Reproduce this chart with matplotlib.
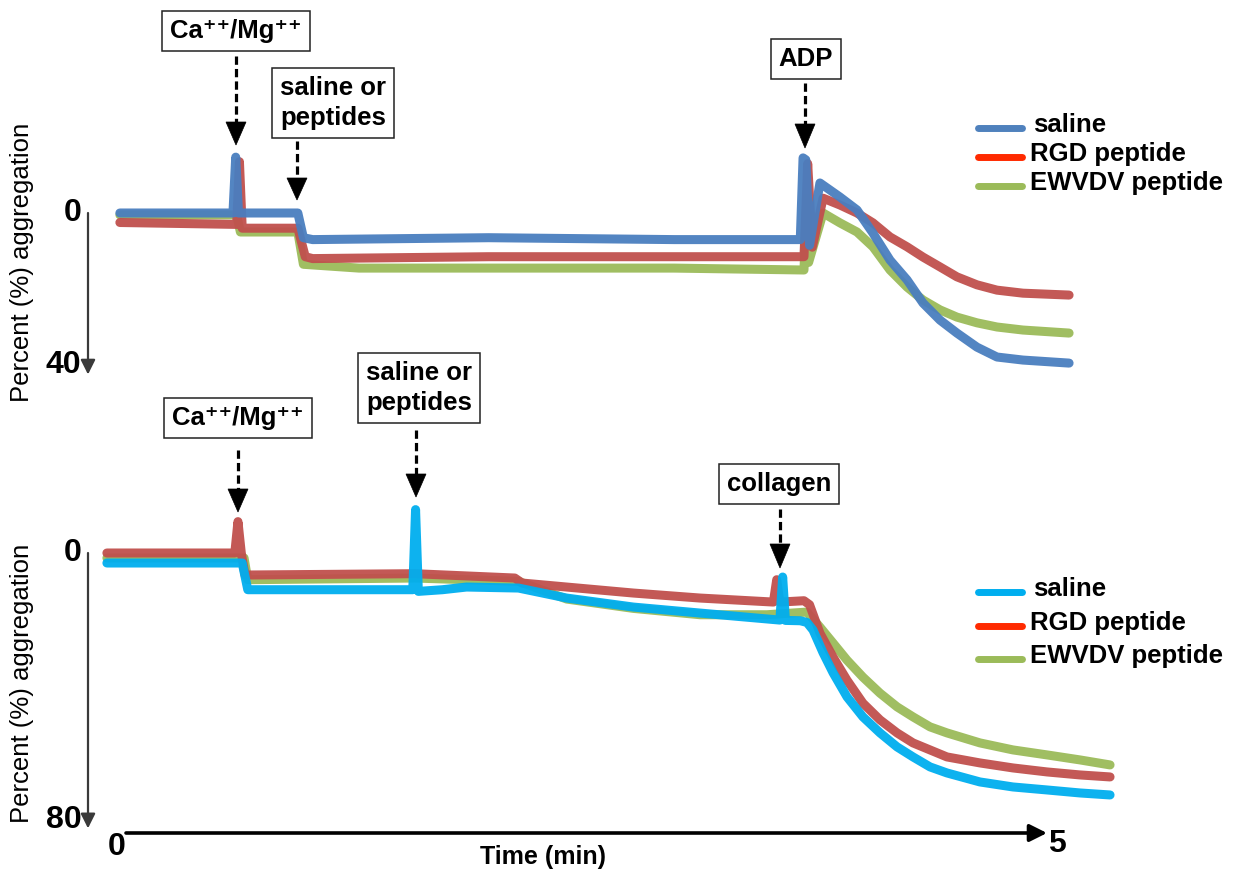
import matplotlib
matplotlib.use("Agg")
import matplotlib.pyplot as plt
from matplotlib.patches import Polygon

plt.rcParams['font.family'] = ['Liberation Sans', 'DejaVu Sans']

# ---------------- data (time in min, percent aggregation) ----------------
series_names = ["saline", "RGD peptide", "EWVDV peptide"]

# Top panel (ADP)
top_saline_t = [0.01, 0.62, 0.635, 0.65, 0.97, 1.00, 1.05, 2.0, 3.0, 3.68, 3.695, 3.71, 3.73,
                3.786, 3.894, 3.986, 4.072, 4.164, 4.256, 4.342, 4.434, 4.525, 4.633, 4.741, 4.881, 5.13]
top_saline_v = [0.0, 0.0, -14.7, 0.0, 0.0, 6.5, 7.0, 6.5, 7.0, 7.0, -14.5, -14.0, 8.5,
                -7.9, -4.2, -0.8, 5.3, 12.4, 17.6, 23.7, 28.2, 31.6, 35.3, 37.9, 38.7, 39.5]
top_rgd_t = [0.01, 0.64, 0.655, 0.67, 0.97, 1.01, 1.05, 2.0, 3.0, 3.70, 3.72, 3.745,
             3.803, 3.894, 3.986, 4.072, 4.164, 4.256, 4.342, 4.434, 4.525, 4.633, 4.741, 4.881, 5.13]
top_rgd_v = [2.5, 3.0, -13.5, 4.0, 4.0, 11.5, 12.0, 11.5, 11.5, 11.5, -13.0, 9.0,
             -3.9, -2.1, 0.0, 2.6, 6.3, 8.9, 11.6, 14.2, 16.8, 18.9, 20.3, 21.1, 21.6]
top_ewvdv_t = [0.01, 0.64, 0.66, 0.97, 1.00, 1.3, 2.0, 3.0, 3.70, 3.715, 3.725,
               3.803, 3.894, 3.986, 4.072, 4.164, 4.256, 4.342, 4.434, 4.525, 4.633, 4.741, 4.881, 5.13]
top_ewvdv_v = [0.5, 0.5, 5.0, 5.0, 13.5, 14.5, 14.5, 14.5, 15.0, -4.0, 13.0,
               0.0, 2.6, 5.0, 8.9, 15.0, 19.5, 22.9, 25.5, 27.4, 28.9, 30.0, 30.8, 31.6]

# Bottom panel (collagen)
bot_saline_t = [-0.06, 0.67, 0.70, 1.59, 1.605, 1.62, 1.75, 1.88, 2.16, 2.42, 2.78, 3.14, 3.57, 3.585, 3.60,
                3.68, 3.716, 3.749, 3.803, 3.857, 3.932, 4.018, 4.110, 4.202, 4.288, 4.380, 4.471,
                4.649, 4.827, 5.011, 5.189, 5.351]
bot_saline_v = [3.0, 3.0, 11.0, 11.0, -13.0, 11.5, 11.0, 10.2, 10.5, 13.5, 16.2, 18.0, 20.1, 7.2, 20.2,
                20.3, 20.8, 23.1, 29.9, 35.9, 43.1, 49.1, 53.9, 58.1, 61.1, 64.1, 65.9,
                68.6, 70.1, 71.0, 71.9, 72.5]
bot_rgd_t = [-0.06, 0.63, 0.647, 0.665, 0.685, 1.6, 2.14, 2.18, 2.42, 2.78, 3.14, 3.535, 3.553, 3.57,
             3.70, 3.73, 3.786, 3.857, 3.932, 4.018, 4.110, 4.202, 4.288, 4.471, 4.649, 4.827,
             5.011, 5.189, 5.351]
bot_rgd_v = [0.0, 0.0, -9.4, 0.0, 6.6, 6.2, 7.5, 9.0, 10.2, 12.0, 13.5, 14.7, 8.0, 14.7,
             14.3, 15.5, 24.0, 31.2, 38.1, 45.0, 50.0, 53.9, 56.9, 61.1, 62.9, 64.4,
             65.6, 66.5, 67.1]
bot_ewvdv_t = [-0.06, 0.68, 0.70, 1.6, 2.16, 2.42, 2.78, 3.14, 3.50, 3.716, 3.786, 3.857, 3.932,
               4.018, 4.110, 4.202, 4.288, 4.380, 4.471, 4.649, 4.827, 5.011, 5.189, 5.351]
bot_ewvdv_v = [1.5, 1.5, 8.0, 7.5, 8.5, 13.8, 16.6, 18.5, 18.5, 17.7, 22.2, 27.0, 32.1,
               37.2, 42.0, 46.1, 49.1, 52.1, 53.9, 56.9, 59.0, 60.5, 62.0, 63.5]

# ---------------- layout helpers (pixel geometry) ----------------
W, H = 1245, 875
fig = plt.figure(figsize=(W / 100, H / 100), dpi=100)
fig.patch.set_facecolor('white')

T0_PX, PX_PER_MIN = 118.0, 185.4


def data_axes(x0, x1, y0, y1, zero_px, px_per_pct):
    ax = fig.add_axes([x0 / W, 1 - y1 / H, (x1 - x0) / W, (y1 - y0) / H])
    ax.set_xlim((x0 - T0_PX) / PX_PER_MIN, (x1 - T0_PX) / PX_PER_MIN)
    ax.set_ylim((y1 - zero_px) / px_per_pct, (y0 - zero_px) / px_per_pct)
    ax.axis('off')
    return ax


ax_top = data_axes(0, 1160, 100, 420, 213.0, 3.8)
ax_bot = data_axes(0, 1160, 470, 860, 553.0, 3.3375)

c_blue = '#4a7ebf'
c_red = '#c0504d'
c_green = '#9bbb59'
c_cyan = '#00aeef'
lw = 6.5
kw = dict(lw=lw, solid_joinstyle='round', solid_capstyle='round', alpha=0.95)

ax_top.plot(top_ewvdv_t, top_ewvdv_v, color=c_green, **kw)
ax_top.plot(top_rgd_t, top_rgd_v, color=c_red, **kw)
ax_top.plot(top_saline_t, top_saline_v, color=c_blue, **kw)

ax_bot.plot(bot_ewvdv_t, bot_ewvdv_v, color=c_green, **kw)
ax_bot.plot(bot_rgd_t, bot_rgd_v, color=c_red, **kw)
ax_bot.plot(bot_saline_t, bot_saline_v, color=c_cyan, **kw)

# y "axes" as downward arrows
axis_t = (88 - T0_PX) / PX_PER_MIN
label_t = (22 - T0_PX) / PX_PER_MIN
for ax, ymax, tip, label_y in [(ax_top, 40, 42.5, 13.0), (ax_bot, 80, 82.5, 39.0)]:
    ax.annotate('', xy=(axis_t, tip), xytext=(axis_t, 0), annotation_clip=False,
                arrowprops=dict(arrowstyle='-|>', color='#3a3a3a', lw=1.6,
                                mutation_scale=22, shrinkA=0, shrinkB=0))
    ax.text(axis_t - 0.035, 0, '0', ha='right', va='center', fontsize=23,
            fontweight='bold', clip_on=False)
    ax.text(axis_t - 0.035, ymax, str(ymax), ha='right', va='center', fontsize=23,
            fontweight='bold', clip_on=False)
    ax.text(label_t, label_y, 'Percent (%) aggregation',
            rotation=90, ha='center', va='center', fontsize=18.5, clip_on=False)

# ---------------- overlay in pixel coordinates ----------------
ov = fig.add_axes([0, 0, 1, 1])
ov.set_xlim(0, W)
ov.set_ylim(H, 0)
ov.axis('off')

# time axis
ov.annotate('', xy=(1047, 833), xytext=(126, 833),
            arrowprops=dict(arrowstyle='-|>', color='black', lw=2.6,
                            mutation_scale=26, shrinkA=0, shrinkB=0))
ov.text(117, 847, '0', ha='center', va='center', fontsize=23, fontweight='bold')
ov.text(1057, 844, '5', ha='center', va='center', fontsize=23, fontweight='bold')
ov.text(543, 857, 'Time (min)', ha='center', va='center', fontsize=18, fontweight='bold')

# event annotations: (box centre x, y, text, arrow x, dash start, head top, tip)
ca_txt = 'Ca\u207a\u207a/Mg\u207a\u207a'
events = [
    (236, 31, ca_txt, 236, 56, 122, 145),
    (333, 103, 'saline or\npeptides', 297, 141, 178, 200),
    (806, 59, 'ADP', 805, 83, 124, 148),
    (238, 418, ca_txt, 238, 450, 489, 512),
    (419, 388, 'saline or\npeptides', 416, 430, 474, 497),
    (779, 484, 'collagen', 780, 509, 544, 568),
]
for bx, by, txt, axx, d0, h0, tip in events:
    ov.text(bx, by, txt, ha='center', va='center', fontsize=18.5, fontweight='bold',
            linespacing=1.3,
            bbox=dict(boxstyle='square,pad=0.32', fc='white', ec='#222222', lw=1.1))
    ov.plot([axx, axx], [d0, h0 + 2], color='black', lw=2.3, dashes=(2.6, 1.3),
            solid_capstyle='butt', dash_capstyle='butt')
    ov.add_patch(Polygon([[axx - 10, h0], [axx + 10, h0], [axx, tip]], closed=True,
                         fc='black', ec='black', lw=0.5))

# legends
leg_items = [
    ([128, 157, 186], ['#4f81bd', '#ff2a00', '#9bbb59']),
    ([592, 626, 659], [c_cyan, '#ff2a00', '#9bbb59']),
]
for ys, cols in leg_items:
    for y, col, name in zip(ys, cols, series_names):
        ov.plot([978, 1022], [y, y], color=col, lw=5, solid_capstyle='round')
        ov.text(1033 if name == 'saline' else 1030, y - 3, name, ha='left', va='center',
                fontsize=18.5, fontweight='bold')

fig.savefig('out.png', dpi=100, facecolor='white')
